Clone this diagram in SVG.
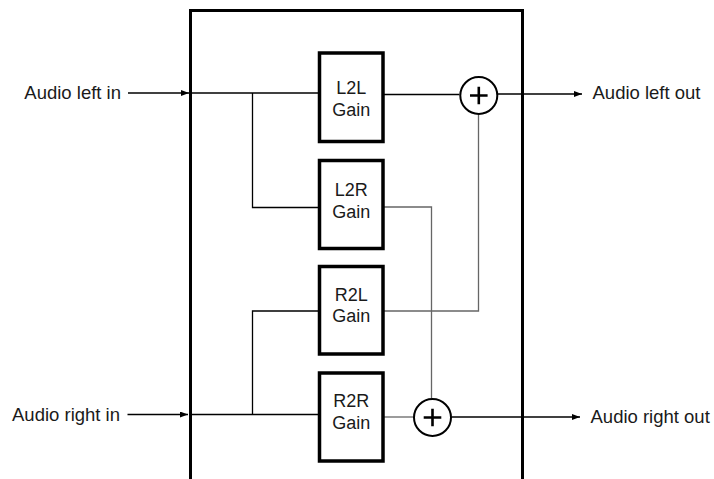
<svg xmlns="http://www.w3.org/2000/svg" width="714" height="479" viewBox="0 0 714 479">
<defs>
<style>
.lbl{font-family:"Liberation Sans",Arial,sans-serif;font-size:18px;fill:#1a1a1a}
.io{font-size:18.5px}
.box{fill:#fff;stroke:#000;stroke-width:3.5}
.w{fill:none;stroke:#000;stroke-width:1.3}
.g{fill:none;stroke:#666;stroke-width:1.3}
.sum{fill:#fff;stroke:#000;stroke-width:2}
.plus{stroke:#000;stroke-width:2.6;fill:none}
</style>
<marker id="ah" markerWidth="8" markerHeight="6" refX="8" refY="3" orient="auto" markerUnits="userSpaceOnUse">
<path d="M0,0 L8,3 L0,6 z" fill="#000"/>
</marker>
</defs>
<rect width="714" height="479" fill="#fff"/>
<g id="frame">
<rect x="190.5" y="10.5" width="332" height="490" fill="none" stroke="#000" stroke-width="3"/>
</g>
<g id="connectors">
<line class="w" x1="128" y1="93" x2="189" y2="93" marker-end="url(#ah)"/>
<line class="w" x1="127.5" y1="414.5" x2="188" y2="414.5" marker-end="url(#ah)"/>
<polyline class="w" points="190,93 319.5,93"/>
<polyline class="w" points="252.5,93 252.5,207.5 319.5,207.5"/>
<polyline class="w" points="190,414.5 319.5,414.5"/>
<polyline class="w" points="252.5,414.5 252.5,311 319.5,311"/>
<line class="w" x1="383" y1="94.5" x2="459.5" y2="94.5"/>
<polyline class="g" points="383,207 431.5,207 431.5,398.5"/>
<polyline class="g" points="383,311 478.5,311 478.5,115"/>
<line class="g" x1="383" y1="417" x2="413.5" y2="417"/>
<line class="w" x1="498" y1="94" x2="582" y2="94" marker-end="url(#ah)"/>
<line class="w" x1="451.5" y1="417" x2="580" y2="417" marker-end="url(#ah)"/>
</g>
<g id="in-left"><text class="lbl io" x="121" y="98.5" text-anchor="end">Audio left in</text></g>
<g id="in-right"><text class="lbl io" x="120" y="420.5" text-anchor="end">Audio right in</text></g>
<g id="out-left"><text class="lbl io" x="592.5" y="98.5">Audio left out</text></g>
<g id="out-right"><text class="lbl io" x="590.5" y="422.5">Audio right out</text></g>
<g id="l2l">
<rect class="box" x="319.5" y="53" width="63.5" height="88.5"/>
<text class="lbl" x="351.3" y="94" text-anchor="middle">L2L</text>
<text class="lbl" x="351.3" y="115.5" text-anchor="middle">Gain</text>
</g>
<g id="l2r">
<rect class="box" x="319.5" y="160.5" width="63.5" height="88"/>
<text class="lbl" x="351.3" y="195.5" text-anchor="middle">L2R</text>
<text class="lbl" x="351.3" y="217.5" text-anchor="middle">Gain</text>
</g>
<g id="r2l">
<rect class="box" x="319.5" y="266.5" width="63.5" height="87.5"/>
<text class="lbl" x="351.3" y="300.5" text-anchor="middle">R2L</text>
<text class="lbl" x="351.3" y="322" text-anchor="middle">Gain</text>
</g>
<g id="r2r">
<rect class="box" x="319.5" y="373" width="63.5" height="88"/>
<text class="lbl" x="351.3" y="407" text-anchor="middle">R2R</text>
<text class="lbl" x="351.3" y="429" text-anchor="middle">Gain</text>
</g>
<g id="sum-left">
<circle class="sum" cx="478.8" cy="95.5" r="18.5"/>
<path class="plus" d="M470,95.5 H487.6 M478.8,86.7 V104.3"/>
</g>
<g id="sum-right">
<circle class="sum" cx="432.5" cy="417.5" r="18.5"/>
<path class="plus" d="M423.7,417.5 H441.3 M432.5,408.7 V426.3"/>
</g>
</svg>
